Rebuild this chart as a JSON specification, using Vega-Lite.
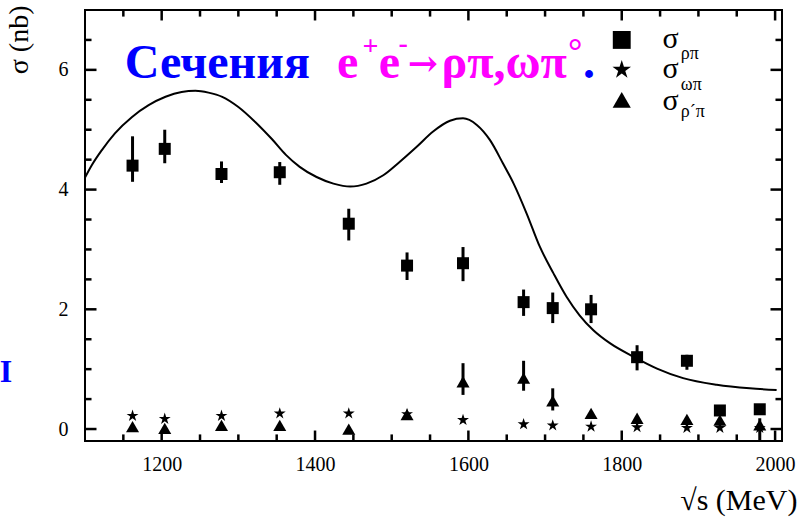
{
  "$schema": "https://vega.github.io/schema/vega-lite/v6.json",
  "width": 697,
  "height": 431,
  "autosize": "none",
  "padding": {"left": 85, "top": 10, "right": 17, "bottom": 78},
  "background": "white",
  "config": {
    "view": {"stroke": "black", "strokeWidth": 2},
    "font": "Liberation Serif",
    "axis": {"grid": false, "domain": false, "ticks": false, "tickSize": 0, "labelColor": "black", "labelFont": "Liberation Serif", "labelFontSize": 20, "titleFont": "Liberation Serif", "titleFontWeight": "normal", "titleColor": "black", "labelOverlap": false, "labelFlush": false}
  },
  "datasets": {
    "pts": [
      {"E": 1162, "sig": 4.40, "lo": 4.13, "hi": 4.89, "ch": "rp"},
      {"E": 1204, "sig": 4.68, "lo": 4.44, "hi": 5.00, "ch": "rp"},
      {"E": 1278, "sig": 4.26, "lo": 4.11, "hi": 4.47, "ch": "rp"},
      {"E": 1354, "sig": 4.29, "lo": 4.08, "hi": 4.46, "ch": "rp"},
      {"E": 1444, "sig": 3.43, "lo": 3.15, "hi": 3.68, "ch": "rp"},
      {"E": 1520, "sig": 2.73, "lo": 2.49, "hi": 2.95, "ch": "rp"},
      {"E": 1593, "sig": 2.77, "lo": 2.47, "hi": 3.04, "ch": "rp"},
      {"E": 1672, "sig": 2.12, "lo": 1.89, "hi": 2.33, "ch": "rp"},
      {"E": 1710, "sig": 2.02, "lo": 1.77, "hi": 2.28, "ch": "rp"},
      {"E": 1760, "sig": 2.00, "lo": 1.77, "hi": 2.24, "ch": "rp"},
      {"E": 1820, "sig": 1.20, "lo": 0.98, "hi": 1.40, "ch": "rp"},
      {"E": 1885, "sig": 1.14, "lo": 0.99, "hi": 1.24, "ch": "rp"},
      {"E": 1928, "sig": 0.31, "lo": 0.26, "hi": 0.37, "ch": "rp"},
      {"E": 1980, "sig": 0.33, "lo": 0.27, "hi": 0.40, "ch": "rp"},
      {"E": 1162, "sig": 0.22, "lo": 0.22, "hi": 0.22, "ch": "wp"},
      {"E": 1204, "sig": 0.17, "lo": 0.17, "hi": 0.17, "ch": "wp"},
      {"E": 1278, "sig": 0.22, "lo": 0.22, "hi": 0.22, "ch": "wp"},
      {"E": 1354, "sig": 0.26, "lo": 0.26, "hi": 0.26, "ch": "wp"},
      {"E": 1444, "sig": 0.26, "lo": 0.26, "hi": 0.26, "ch": "wp"},
      {"E": 1520, "sig": 0.25, "lo": 0.25, "hi": 0.25, "ch": "wp"},
      {"E": 1593, "sig": 0.15, "lo": 0.15, "hi": 0.15, "ch": "wp"},
      {"E": 1672, "sig": 0.08, "lo": 0.08, "hi": 0.08, "ch": "wp"},
      {"E": 1710, "sig": 0.06, "lo": 0.06, "hi": 0.06, "ch": "wp"},
      {"E": 1760, "sig": 0.04, "lo": 0.04, "hi": 0.04, "ch": "wp"},
      {"E": 1820, "sig": 0.03, "lo": 0.03, "hi": 0.03, "ch": "wp"},
      {"E": 1885, "sig": 0.02, "lo": 0.02, "hi": 0.02, "ch": "wp"},
      {"E": 1928, "sig": 0.02, "lo": 0.02, "hi": 0.02, "ch": "wp"},
      {"E": 1980, "sig": 0.02, "lo": 0.02, "hi": 0.02, "ch": "wp"},
      {"E": 1162, "sig": 0.04, "lo": 0.04, "hi": 0.04, "ch": "rpp"},
      {"E": 1204, "sig": 0.01, "lo": 0.01, "hi": 0.01, "ch": "rpp"},
      {"E": 1278, "sig": 0.06, "lo": 0.06, "hi": 0.06, "ch": "rpp"},
      {"E": 1354, "sig": 0.06, "lo": 0.06, "hi": 0.06, "ch": "rpp"},
      {"E": 1444, "sig": 0.00, "lo": 0.00, "hi": 0.00, "ch": "rpp"},
      {"E": 1520, "sig": 0.24, "lo": 0.24, "hi": 0.24, "ch": "rpp"},
      {"E": 1593, "sig": 0.79, "lo": 0.57, "hi": 1.10, "ch": "rpp"},
      {"E": 1672, "sig": 0.85, "lo": 0.64, "hi": 1.14, "ch": "rpp"},
      {"E": 1710, "sig": 0.47, "lo": 0.31, "hi": 0.68, "ch": "rpp"},
      {"E": 1760, "sig": 0.26, "lo": 0.26, "hi": 0.26, "ch": "rpp"},
      {"E": 1820, "sig": 0.18, "lo": 0.18, "hi": 0.18, "ch": "rpp"},
      {"E": 1885, "sig": 0.16, "lo": 0.16, "hi": 0.16, "ch": "rpp"},
      {"E": 1928, "sig": 0.15, "lo": 0.15, "hi": 0.15, "ch": "rpp"},
      {"E": 1980, "sig": 0.07, "lo": -0.3, "hi": 0.18, "ch": "rpp"}
    ],
    "fit": [
      {"E": 1100, "sig": 4.20}, {"E": 1109, "sig": 4.41}, {"E": 1122, "sig": 4.66},
      {"E": 1139, "sig": 4.94}, {"E": 1161, "sig": 5.21}, {"E": 1183, "sig": 5.41},
      {"E": 1205, "sig": 5.55}, {"E": 1226, "sig": 5.63}, {"E": 1244, "sig": 5.65},
      {"E": 1261, "sig": 5.62}, {"E": 1279, "sig": 5.55}, {"E": 1300, "sig": 5.38},
      {"E": 1322, "sig": 5.13}, {"E": 1344, "sig": 4.84}, {"E": 1362, "sig": 4.58},
      {"E": 1380, "sig": 4.38}, {"E": 1402, "sig": 4.21}, {"E": 1424, "sig": 4.10},
      {"E": 1446, "sig": 4.05}, {"E": 1467, "sig": 4.10}, {"E": 1489, "sig": 4.24},
      {"E": 1511, "sig": 4.47}, {"E": 1533, "sig": 4.72}, {"E": 1554, "sig": 4.97},
      {"E": 1576, "sig": 5.15}, {"E": 1593, "sig": 5.19}, {"E": 1611, "sig": 5.08},
      {"E": 1628, "sig": 4.83}, {"E": 1645, "sig": 4.44}, {"E": 1659, "sig": 4.10},
      {"E": 1676, "sig": 3.60}, {"E": 1693, "sig": 3.05}, {"E": 1711, "sig": 2.60},
      {"E": 1728, "sig": 2.21}, {"E": 1745, "sig": 1.90}, {"E": 1763, "sig": 1.65},
      {"E": 1785, "sig": 1.43}, {"E": 1815, "sig": 1.21}, {"E": 1846, "sig": 1.01},
      {"E": 1880, "sig": 0.85}, {"E": 1924, "sig": 0.74}, {"E": 1967, "sig": 0.68},
      {"E": 2002, "sig": 0.65}
    ],
    "xmaj": [{"v": 1200}, {"v": 1400}, {"v": 1600}, {"v": 1800}, {"v": 2000}],
    "xmin": [{"v": 1150}, {"v": 1250}, {"v": 1300}, {"v": 1350}, {"v": 1450}, {"v": 1500}, {"v": 1550}, {"v": 1650}, {"v": 1700}, {"v": 1750}, {"v": 1850}, {"v": 1900}, {"v": 1950}],
    "ymaj": [{"v": 0}, {"v": 2}, {"v": 4}, {"v": 6}],
    "ymin": [{"v": 0.5}, {"v": 1}, {"v": 1.5}, {"v": 2.5}, {"v": 3}, {"v": 3.5}, {"v": 4.5}, {"v": 5}, {"v": 5.5}, {"v": 6.5}]
  },
  "layer": [
    {
      "data": {"name": "fit"},
      "mark": {"type": "line", "color": "black", "strokeWidth": 2, "interpolate": "monotone", "clip": true},
      "encoding": {
        "x": {"field": "E", "type": "quantitative", "scale": {"domain": [1100, 2009], "nice": false, "zero": false},
          "axis": {"orient": "bottom", "values": [1200, 1400, 1600, 1800, 2000],
            "labelExpr": "'' + datum.value",
            "labelPadding": 13,
            "title": "√s (MeV)", "titleFontSize": 30, "titleAnchor": null, "titleX": 712, "titleY": 68, "titleAlign": "right", "titleBaseline": "alphabetic"}},
        "y": {"field": "sig", "type": "quantitative", "scale": {"domain": [-0.2, 7.0], "nice": false, "zero": false},
          "axis": {"orient": "left", "values": [0, 2, 4, 6],
            "labelExpr": "'' + datum.value",
            "labelPadding": 17,
            "title": "σ (nb)", "titleFontSize": 28, "titleAnchor": null, "titleAngle": 270, "titleX": -66, "titleY": -5, "titleAlign": "right", "titleBaseline": "middle"}}
      }
    },
    {
      "data": {"name": "xmaj"},
      "mark": {"type": "rule", "color": "black", "strokeWidth": 2.5, "strokeCap": "butt"},
      "encoding": {"x": {"field": "v", "type": "quantitative"}, "y": {"datum": -0.2, "type": "quantitative"}, "y2": {"datum": -0.025}}
    },
    {
      "data": {"name": "xmin"},
      "mark": {"type": "rule", "color": "black", "strokeWidth": 2.5, "strokeCap": "butt"},
      "encoding": {"x": {"field": "v", "type": "quantitative"}, "y": {"datum": -0.2, "type": "quantitative"}, "y2": {"datum": -0.09}}
    },
    {
      "data": {"name": "xmaj"},
      "mark": {"type": "rule", "color": "black", "strokeWidth": 2.5, "strokeCap": "butt"},
      "encoding": {"x": {"field": "v", "type": "quantitative"}, "y": {"datum": 7.0, "type": "quantitative"}, "y2": {"datum": 6.825}}
    },
    {
      "data": {"name": "xmin"},
      "mark": {"type": "rule", "color": "black", "strokeWidth": 2.5, "strokeCap": "butt"},
      "encoding": {"x": {"field": "v", "type": "quantitative"}, "y": {"datum": 7.0, "type": "quantitative"}, "y2": {"datum": 6.89}}
    },
    {
      "data": {"name": "ymaj"},
      "mark": {"type": "rule", "color": "black", "strokeWidth": 2.5, "strokeCap": "butt"},
      "encoding": {"y": {"field": "v", "type": "quantitative"}, "x": {"datum": 1100, "type": "quantitative"}, "x2": {"datum": 1115}}
    },
    {
      "data": {"name": "ymin"},
      "mark": {"type": "rule", "color": "black", "strokeWidth": 2.5, "strokeCap": "butt"},
      "encoding": {"y": {"field": "v", "type": "quantitative"}, "x": {"datum": 1100, "type": "quantitative"}, "x2": {"datum": 1108.5}}
    },
    {
      "data": {"name": "ymaj"},
      "mark": {"type": "rule", "color": "black", "strokeWidth": 2.5, "strokeCap": "butt"},
      "encoding": {"y": {"field": "v", "type": "quantitative"}, "x": {"datum": 2009, "type": "quantitative"}, "x2": {"datum": 1994}}
    },
    {
      "data": {"name": "ymin"},
      "mark": {"type": "rule", "color": "black", "strokeWidth": 2.5, "strokeCap": "butt"},
      "encoding": {"y": {"field": "v", "type": "quantitative"}, "x": {"datum": 2009, "type": "quantitative"}, "x2": {"datum": 2000.5}}
    },
    {
      "data": {"name": "pts"},
      "mark": {"type": "rule", "color": "black", "strokeWidth": 3, "clip": true},
      "encoding": {
        "x": {"field": "E", "type": "quantitative"},
        "y": {"field": "lo", "type": "quantitative"},
        "y2": {"field": "hi"}
      }
    },
    {
      "data": {"name": "pts"},
      "mark": {"type": "point", "filled": true, "opacity": 1, "color": "black", "strokeWidth": 0},
      "encoding": {
        "x": {"field": "E", "type": "quantitative"},
        "y": {"field": "sig", "type": "quantitative"},
        "shape": {"field": "ch", "type": "nominal", "legend": null,
          "scale": {"domain": ["rp", "wp", "rpp"], "range": ["square", "M0,-1L0.2245,-0.309L0.951,-0.309L0.363,0.118L0.588,0.809L0,0.382L-0.588,0.809L-0.363,0.118L-0.951,-0.309L-0.2245,-0.309Z", "triangle-up"]}},
        "size": {"field": "ch", "type": "nominal", "legend": null,
          "scale": {"domain": ["rp", "wp", "rpp"], "range": [144, 170, 130]}}
      }
    },
    {
      "data": {"values": [{}]},
      "mark": {"type": "point", "filled": true, "opacity": 1, "color": "black", "strokeWidth": 0, "shape": "square", "size": 320},
      "encoding": {"x": {"datum": 1800, "type": "quantitative"}, "y": {"datum": 6.5, "type": "quantitative"}}
    },
    {
      "data": {"values": [{}]},
      "mark": {"type": "point", "filled": true, "opacity": 1, "color": "black", "strokeWidth": 0, "shape": "M0,-1L0.2245,-0.309L0.951,-0.309L0.363,0.118L0.588,0.809L0,0.382L-0.588,0.809L-0.363,0.118L-0.951,-0.309L-0.2245,-0.309Z", "size": 380},
      "encoding": {"x": {"datum": 1800, "type": "quantitative"}, "y": {"datum": 6.0, "type": "quantitative"}}
    },
    {
      "data": {"values": [{}]},
      "mark": {"type": "point", "filled": true, "opacity": 1, "color": "black", "strokeWidth": 0, "shape": "triangle-up", "size": 330},
      "encoding": {"x": {"datum": 1800, "type": "quantitative"}, "y": {"datum": 5.5, "type": "quantitative"}}
    },
    {
      "data": {"values": [{}]},
      "mark": {"type": "text", "text": "σ", "font": "Liberation Serif", "fontSize": 30, "align": "left", "baseline": "alphabetic", "color": "black"},
      "encoding": {"x": {"datum": 1853, "type": "quantitative"}, "y": {"datum": 6.365, "type": "quantitative"}}
    },
    {
      "data": {"values": [{}]},
      "mark": {"type": "text", "text": "ρπ", "font": "Liberation Serif", "fontSize": 18, "align": "left", "baseline": "alphabetic", "color": "black"},
      "encoding": {"x": {"datum": 1877, "type": "quantitative"}, "y": {"datum": 6.18, "type": "quantitative"}}
    },
    {
      "data": {"values": [{}]},
      "mark": {"type": "text", "text": "σ", "font": "Liberation Serif", "fontSize": 30, "align": "left", "baseline": "alphabetic", "color": "black"},
      "encoding": {"x": {"datum": 1853, "type": "quantitative"}, "y": {"datum": 5.865, "type": "quantitative"}}
    },
    {
      "data": {"values": [{}]},
      "mark": {"type": "text", "text": "ωπ", "font": "Liberation Serif", "fontSize": 18, "align": "left", "baseline": "alphabetic", "color": "black"},
      "encoding": {"x": {"datum": 1877, "type": "quantitative"}, "y": {"datum": 5.665, "type": "quantitative"}}
    },
    {
      "data": {"values": [{}]},
      "mark": {"type": "text", "text": "σ", "font": "Liberation Serif", "fontSize": 30, "align": "left", "baseline": "alphabetic", "color": "black"},
      "encoding": {"x": {"datum": 1853, "type": "quantitative"}, "y": {"datum": 5.33, "type": "quantitative"}}
    },
    {
      "data": {"values": [{}]},
      "mark": {"type": "text", "text": "ρ´π", "font": "Liberation Serif", "fontSize": 18, "align": "left", "baseline": "alphabetic", "color": "black"},
      "encoding": {"x": {"datum": 1877, "type": "quantitative"}, "y": {"datum": 5.21, "type": "quantitative"}}
    },
    {
      "data": {"values": [{}]},
      "mark": {"type": "text", "text": "Сечения", "font": "Liberation Serif", "fontSize": 48, "fontWeight": "bold", "align": "left", "baseline": "alphabetic", "color": "#0000ff"},
      "encoding": {"x": {"datum": 1152, "type": "quantitative"}, "y": {"datum": 5.864, "type": "quantitative"}}
    },
    {
      "data": {"values": [{}]},
      "mark": {"type": "text", "text": "e", "font": "Liberation Serif", "fontSize": 48, "fontWeight": "bold", "align": "left", "baseline": "alphabetic", "color": "#ff00ff"},
      "encoding": {"x": {"datum": 1428.6, "type": "quantitative"}, "y": {"datum": 5.864, "type": "quantitative"}}
    },
    {
      "data": {"values": [{}]},
      "mark": {"type": "text", "text": "+", "font": "Liberation Serif", "fontSize": 28, "fontWeight": "bold", "align": "left", "baseline": "alphabetic", "color": "#ff00ff"},
      "encoding": {"x": {"datum": 1462, "type": "quantitative"}, "y": {"datum": 6.25, "type": "quantitative"}}
    },
    {
      "data": {"values": [{}]},
      "mark": {"type": "text", "text": "e", "font": "Liberation Serif", "fontSize": 48, "fontWeight": "bold", "align": "left", "baseline": "alphabetic", "color": "#ff00ff"},
      "encoding": {"x": {"datum": 1483, "type": "quantitative"}, "y": {"datum": 5.864, "type": "quantitative"}}
    },
    {
      "data": {"values": [{}]},
      "mark": {"type": "text", "text": "-", "font": "Liberation Serif", "fontSize": 28, "fontWeight": "bold", "align": "left", "baseline": "alphabetic", "color": "#ff00ff"},
      "encoding": {"x": {"datum": 1509, "type": "quantitative"}, "y": {"datum": 6.3, "type": "quantitative"}}
    },
    {
      "data": {"values": [{}]},
      "mark": {"type": "text", "text": "→", "font": "DejaVu Serif", "fontSize": 36, "fontWeight": "bold", "align": "left", "baseline": "alphabetic", "color": "#ff00ff"},
      "encoding": {"x": {"datum": 1521, "type": "quantitative"}, "y": {"datum": 5.9, "type": "quantitative"}}
    },
    {
      "data": {"values": [{}]},
      "mark": {"type": "text", "text": "ρπ,ωπ", "font": "Liberation Serif", "fontSize": 48, "fontWeight": "bold", "align": "left", "baseline": "alphabetic", "color": "#ff00ff"},
      "encoding": {"x": {"datum": 1565, "type": "quantitative"}, "y": {"datum": 5.864, "type": "quantitative"}}
    },
    {
      "data": {"values": [{}]},
      "mark": {"type": "text", "text": "°", "font": "Liberation Serif", "fontSize": 36, "fontWeight": "bold", "align": "left", "baseline": "alphabetic", "color": "#ff00ff"},
      "encoding": {"x": {"datum": 1729.9, "type": "quantitative"}, "y": {"datum": 6.12, "type": "quantitative"}}
    },
    {
      "data": {"values": [{}]},
      "mark": {"type": "text", "text": ".", "font": "Liberation Serif", "fontSize": 48, "fontWeight": "bold", "align": "left", "baseline": "alphabetic", "color": "#0000ff"},
      "encoding": {"x": {"datum": 1749.5, "type": "quantitative"}, "y": {"datum": 5.864, "type": "quantitative"}}
    },
    {
      "data": {"values": [{}]},
      "mark": {"type": "text", "text": "I", "font": "Liberation Serif", "fontSize": 32, "fontWeight": "bold", "align": "center", "baseline": "alphabetic", "color": "#0000ff"},
      "encoding": {"x": {"datum": 997, "type": "quantitative"}, "y": {"datum": 0.785, "type": "quantitative"}}
    }
  ]
}
